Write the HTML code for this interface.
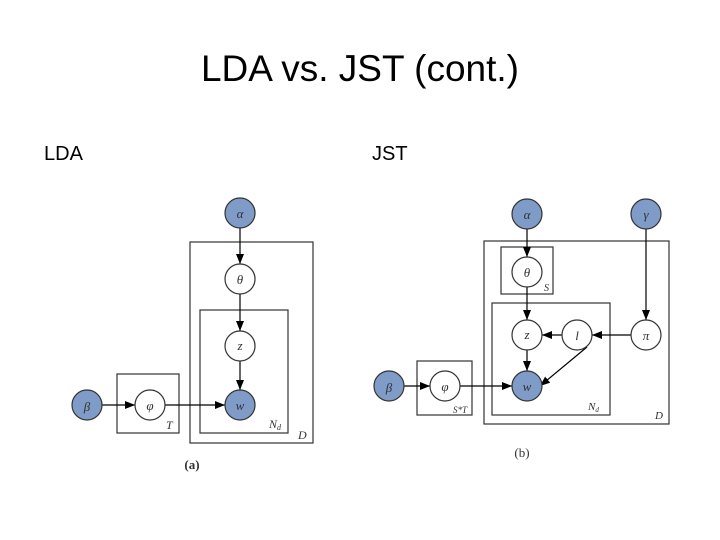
<!DOCTYPE html>
<html><head><style>
body{margin:0;width:720px;height:540px;background:#fff;overflow:hidden;position:relative;font-family:"Liberation Sans",sans-serif}
.t{position:absolute;white-space:nowrap;color:#000}
</style></head><body>
<div class="t" style="left:0;width:720px;text-align:center;top:48px;font-size:37px">LDA vs. JST (cont.)</div>
<div class="t" style="left:44px;top:143px;font-size:20px">LDA</div>
<div class="t" style="left:372px;top:143px;font-size:20px">JST</div>
<svg width="720" height="540" style="position:absolute;left:0;top:0" font-family="Liberation Serif" font-style="italic">
<defs><marker id="a" markerWidth="10" markerHeight="8" refX="10" refY="4" orient="auto" markerUnits="userSpaceOnUse"><path d="M0,0L10,4L0,8z" fill="#000"/></marker></defs>
<g fill="none" stroke="#333" stroke-width="1.2">
<rect x="190" y="242" width="123" height="201"/>
<rect x="200" y="310" width="88" height="123"/>
<rect x="117" y="374" width="62" height="59"/>
<rect x="484" y="241" width="185" height="183"/>
<rect x="501" y="247" width="52" height="47"/>
<rect x="492" y="303" width="118" height="112"/>
<rect x="417" y="361" width="55" height="54"/>
</g>
<g stroke="#000" stroke-width="1.2" marker-end="url(#a)">
<line x1="240" y1="228" x2="240" y2="264"/>
<line x1="240" y1="294" x2="240" y2="331"/>
<line x1="240" y1="361" x2="240" y2="390"/>
<line x1="102" y1="405" x2="135" y2="405"/>
<line x1="165" y1="405" x2="225" y2="405"/>
<line x1="527" y1="229" x2="527" y2="257"/>
<line x1="527" y1="287" x2="527" y2="320"/>
<line x1="646" y1="229" x2="646" y2="320"/>
<line x1="631" y1="335" x2="592" y2="335"/>
<line x1="562" y1="335" x2="542" y2="335"/>
<line x1="527" y1="350" x2="527" y2="371"/>
<line x1="587" y1="347" x2="540" y2="386"/>
<line x1="404" y1="386" x2="430" y2="386"/>
<line x1="460" y1="386" x2="512" y2="386"/>
</g>
<g stroke="#333" stroke-width="1.2">
<circle cx="240" cy="213" r="15" fill="#7f9cc8"/>
<circle cx="240" cy="279" r="15" fill="#fff"/>
<circle cx="240" cy="346" r="15" fill="#fff"/>
<circle cx="240" cy="405" r="15" fill="#7f9cc8"/>
<circle cx="150" cy="405" r="15" fill="#fff"/>
<circle cx="87" cy="405" r="15" fill="#7f9cc8"/>
<circle cx="527" cy="214" r="15" fill="#7f9cc8"/>
<circle cx="646" cy="214" r="15" fill="#7f9cc8"/>
<circle cx="527" cy="272" r="15" fill="#fff"/>
<circle cx="527" cy="335" r="15" fill="#fff"/>
<circle cx="577" cy="335" r="15" fill="#fff"/>
<circle cx="646" cy="335" r="15" fill="#fff"/>
<circle cx="527" cy="386" r="15" fill="#7f9cc8"/>
<circle cx="445" cy="386" r="15" fill="#fff"/>
<circle cx="389" cy="386" r="15" fill="#7f9cc8"/>
</g>
<g font-size="13" text-anchor="middle" fill="#333">
<text x="240" y="218">α</text><text x="240" y="284">θ</text><text x="240" y="350">z</text><text x="240" y="410">w</text><text x="150" y="410">φ</text><text x="87" y="411">β</text>
<text x="527" y="219">α</text><text x="646" y="219">γ</text><text x="527" y="277">θ</text><text x="527" y="339">z</text><text x="577" y="340">l</text><text x="646" y="340">π</text><text x="527" y="391">w</text><text x="445" y="391">φ</text><text x="389" y="392">β</text>
</g>
<g font-size="12" fill="#333">
<text x="166" y="429">T</text><text x="269" y="428">N<tspan font-size="8" dy="2">d</tspan></text><text x="298" y="439">D</text>
<text x="544" y="291" font-size="10">S</text><text x="453" y="413" font-size="9">S*T</text><text x="588" y="410" font-size="11">N<tspan font-size="7" dy="2">d</tspan></text><text x="655" y="419" font-size="11">D</text>
</g>
<g font-size="13" font-style="normal" text-anchor="middle" fill="#333">
<text x="192" y="469" font-weight="bold">(a)</text>
<text x="522" y="457">(b)</text>
</g>
</svg>
</body></html>
